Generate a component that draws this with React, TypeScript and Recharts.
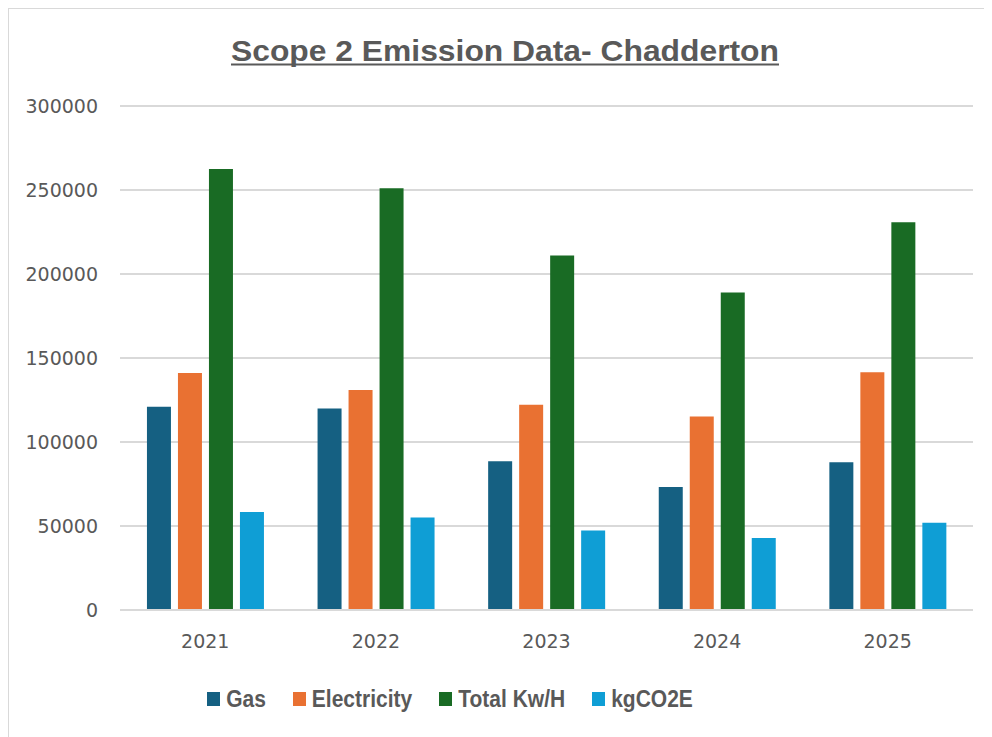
import React from 'react';
import { BarChart, Bar, XAxis, YAxis, CartesianGrid, Legend } from 'recharts';

const years = ['2021', '2022', '2023', '2024', '2025'];
const gas = [121000, 120000, 88500, 73200, 88000];
const electricity = [141000, 131000, 122100, 115200, 141500];
const totalKwh = [262500, 251000, 211000, 189000, 230800];
const kgco2e = [58300, 55000, 47300, 42800, 52000];
const yTicks = [0, 50000, 100000, 150000, 200000, 250000, 300000];

const seriesKeys = ['gas', 'electricity', 'total', 'kg'];
const seriesNames = ['Gas', 'Electricity', 'Total Kw/H', 'kgCO2E'];
const seriesColors = ['#156082', '#E97132', '#196B24', '#0F9ED5'];

const data = years.map((y, i) => ({
  year: y,
  gas: gas[i],
  electricity: electricity[i],
  total: totalKwh[i],
  kg: kgco2e[i],
}));

const TEXT = '#595959';

const renderLegend = () => {
  return (
    <div style={{ display: 'flex', justifyContent: 'center', alignItems: 'center', height: 67, paddingTop: 10, boxSizing: 'border-box', paddingRight: 80 }}>
      {seriesNames.map((name, i) => (
        <div key={name} style={{ display: 'flex', alignItems: 'center', marginRight: i < seriesNames.length - 1 ? 27 : 0 }}>
          <span style={{ display: 'inline-block', width: 13, height: 14, background: seriesColors[i], marginRight: 6 }} />
          <span style={{ fontFamily: '"Liberation Sans", Arial, sans-serif', fontWeight: 'bold', fontSize: 21, color: TEXT, display: 'inline-block', transform: 'scale(1, 1.15)' }}>{name}</span>
        </div>
      ))}
    </div>
  );
};

export default function App() {
  return (
    <div style={{ position: 'relative', width: 985, height: 730, borderLeft: '2px solid #d9d9d9', borderTop: '2px solid #d9d9d9', marginLeft: -1, marginTop: -1, boxSizing: 'border-box', background: '#fff', overflow: 'hidden' }}>
      <svg width={976} height={80} style={{ position: 'absolute', left: -2, top: -2 }}>
        <text x={498} y={54} textAnchor="middle" textLength={548} lengthAdjust="spacingAndGlyphs" fill={TEXT} style={{ fontFamily: '"Liberation Sans", Arial, sans-serif', fontWeight: 'bold', fontSize: 30 }}>
          Scope 2 Emission Data- Chadderton
        </text>
        <line x1={224} x2={772} y1={57.5} y2={57.5} stroke={TEXT} strokeWidth={2} />
      </svg>
      <div style={{ position: 'absolute', left: -2, top: -2 }}>
        <BarChart width={976} height={720} data={data} margin={{ top: 99, right: 10, left: 0, bottom: 0 }} barCategoryGap="15.8%" barGap={7}>
          <CartesianGrid vertical={false} stroke="#d9d9d9" strokeWidth={2} />
          <XAxis dataKey="year" height={50} axisLine={{ stroke: '#d9d9d9', strokeWidth: 2 }} tickLine={false} tickSize={8} tickMargin={17} tick={{ fill: TEXT, fontSize: 19, fontFamily: '"DejaVu Sans", sans-serif' }} />
          <YAxis width={113} domain={[0, 300000]} ticks={yTicks} axisLine={false} tickLine={false} tickSize={8} tickMargin={14} tick={{ fill: TEXT, fontSize: 19, fontFamily: '"DejaVu Sans", sans-serif' }} />
          <Legend verticalAlign="bottom" content={renderLegend} wrapperStyle={{ height: 67 }} />
          {seriesKeys.map((k, i) => (
            <Bar key={k} dataKey={k} name={seriesNames[i]} fill={seriesColors[i]} isAnimationActive={false} />
          ))}
        </BarChart>
      </div>
    </div>
  );
}
